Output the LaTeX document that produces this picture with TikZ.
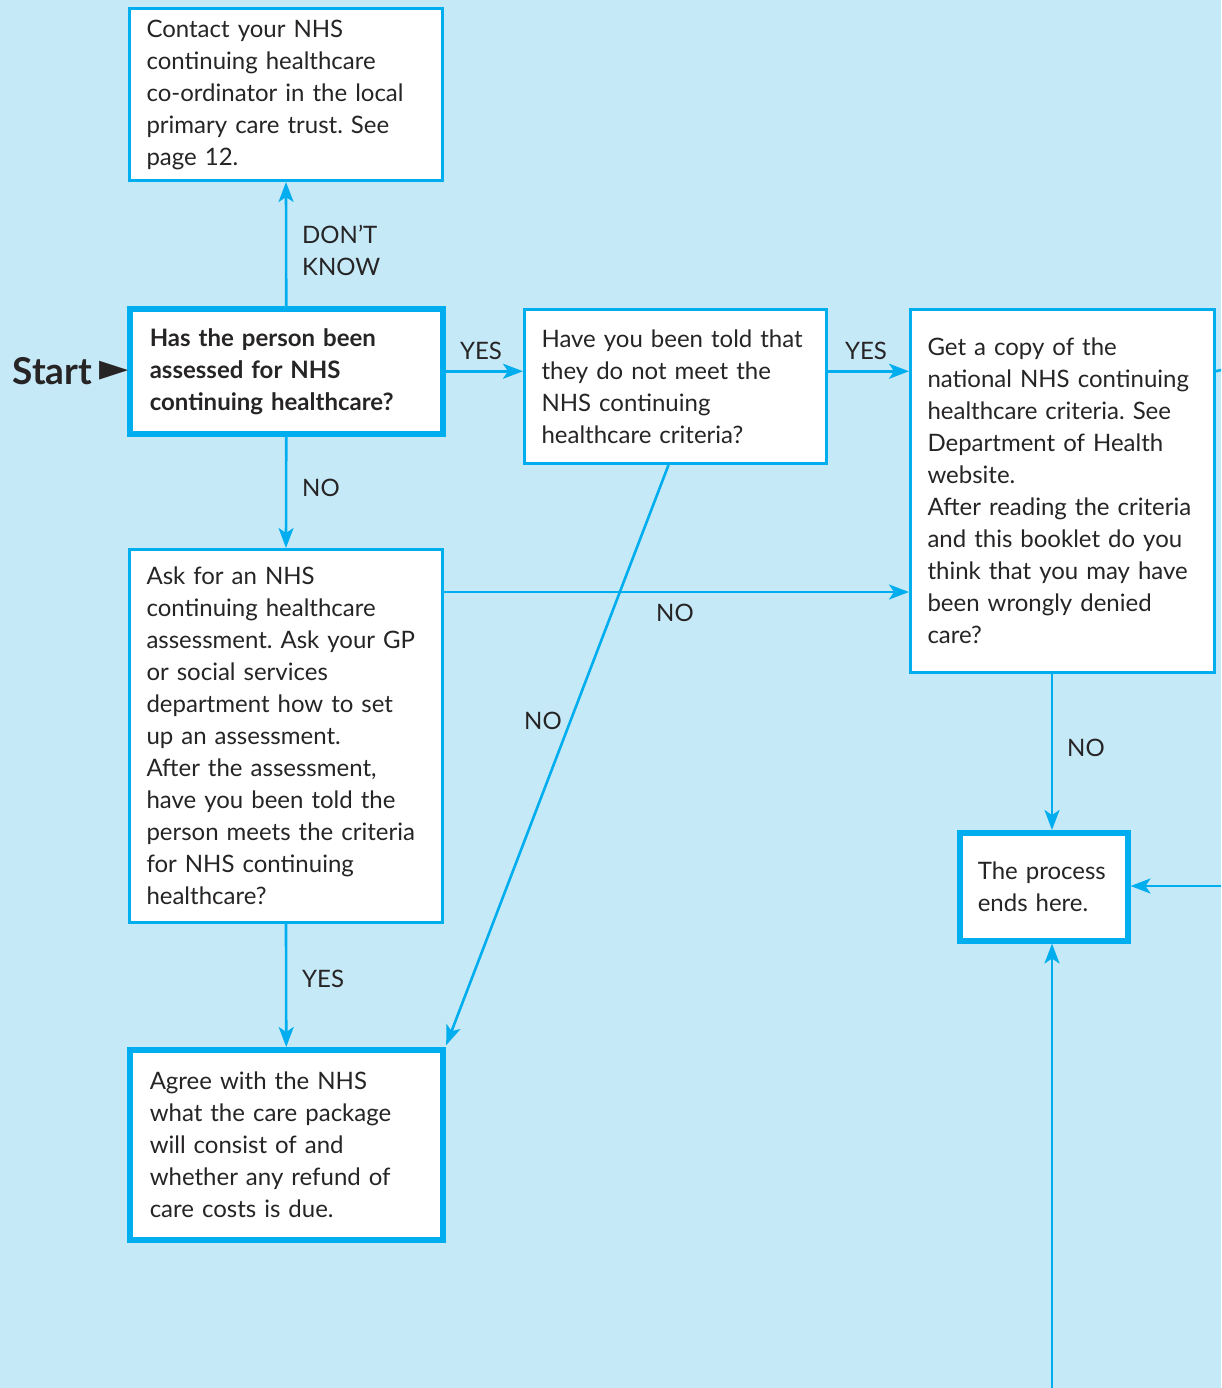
\documentclass[tikz,border=0pt]{standalone}
\usepackage{fontspec}
\setmainfont{Lato}
\newfontfamily\symfont{DejaVu Sans}
\usetikzlibrary{arrows.meta,positioning}
\definecolor{nhsblue}{HTML}{00AEEF}
\definecolor{nhssky}{HTML}{C6E9F8}
\definecolor{nhsink}{HTML}{262425}
\tikzset{
  box/.style = {draw=nhsblue, fill=white, line width=3pt, anchor=north west,
    align=left, inner xsep=17pt, inner ysep=0pt, text=nhsink,
    font=\fontsize{24}{32}\selectfont},
  bigbox/.style = {box, line width=5.5pt, inner xsep=20pt},
  link/.style = {draw=nhsblue, line width=2.6pt, -{Stealth[length=20pt,width=15pt,inset=5pt]}},
  lbl/.style = {text=nhsink, font=\fontsize{24}{32}\selectfont, inner sep=0pt, align=left}
}
\frenchspacing
\hyphenpenalty=10000
\begin{document}
\begin{tikzpicture}[x=1pt,y=-1pt]
\fill[nhssky] (0,0) rectangle (1221,1388);
\useasboundingbox (0,0) rectangle (1221,1388);

% boxes
\node[box, text width=279pt, minimum height=172pt] (contact) at (128,7)
  {Contact your NHS\\continuing healthcare\\co-ordinator in the local\\primary care trust. See\\page 12.};
\node[bigbox, text width=273pt, minimum height=125pt, font=\bfseries\fontsize{24}{32}\selectfont] (assessed) at (127,306)
  {Has the person been\\assessed for NHS\\continuing healthcare?};
\node[box, text width=268pt, minimum height=154pt] (toldnot) at (523,308)
  {Have you been told that\\they do not meet the\\NHS continuing\\healthcare criteria?};
\node[box, text width=270pt, minimum height=363pt] (getcopy) at (909,308)
  {Get a copy of the\\national NHS continuing\\healthcare criteria. See\\Department of Health\\website.\\After reading the criteria\\and this booklet do you\\think that you may have\\been wrongly denied\\care?};
\node[box, text width=279pt, minimum height=373pt] (askfor) at (128,548)
  {Ask for an NHS\\continuing healthcare\\assessment. Ask your GP\\or social services\\department how to set\\up an assessment.\\After the assessment,\\have you been told the\\person meets the criteria\\for NHS continuing\\healthcare?};
\node[bigbox, text width=273pt, minimum height=190pt] (agree) at (127,1047)
  {Agree with the NHS\\what the care package\\will consist of and\\whether any refund of\\care costs is due.};
\node[bigbox, text width=132pt, minimum height=108pt, inner xsep=18pt] (ends) at (957,830)
  {The process\\ends here.};

% start marker
\node[text=nhsink, inner sep=0pt, anchor=east, font=\symfont\fontsize{38}{38}\selectfont] (startmark) at (129,371) {►};
\node[text=nhsink, inner sep=0pt, left=7pt of startmark, font=\bfseries\fontsize{37}{40}\selectfont] (start) {Start};

% links
\coordinate (spine) at (1052,1388);
\coordinate (rightin) at (1221,886);
\coordinate (rightout) at (1221,370);
\draw[link] (assessed.north) -- (contact.south);
\draw[link] (assessed.east) -- (assessed.east -| toldnot.west);
\draw[link] (assessed.east -| toldnot.east) -- (assessed.east -| getcopy.west);
\draw[link] (assessed.south) -- (askfor.north);
\draw[link] ([yshift=-44pt]askfor.north east) -- ([yshift=-44pt]askfor.north east -| getcopy.west);
\draw[link, shorten >=2pt] ([xshift=-7pt]toldnot.south) -- (agree.north east);
\draw[link] (askfor.south) -- (agree.north);
\draw[link] (spine |- getcopy.south) -- (spine |- ends.north);
\draw[link] (rightin) -- (rightin -| ends.east);
\draw[link] (spine) -- (spine |- ends.south);
\draw[draw=nhsblue, line width=2.6pt] (assessed.east -| getcopy.east) -- (rightout);

% labels
\node[lbl, anchor=west] (dontknow) at (302,250) {DON’T\\KNOW};
\node[lbl] (yesone) at (481,351) {YES};
\node[lbl] (yestwo) at (866,351) {YES};
\node[lbl, anchor=west] (noone) at (302,488) {NO};
\node[lbl] (notwo) at (675,613) {NO};
\node[lbl] (nothree) at (543,721) {NO};
\node[lbl, anchor=west] (yesthree) at (302,979) {YES};
\node[lbl, anchor=west] (nofour) at (1067,748) {NO};
\end{tikzpicture}
\end{document}
